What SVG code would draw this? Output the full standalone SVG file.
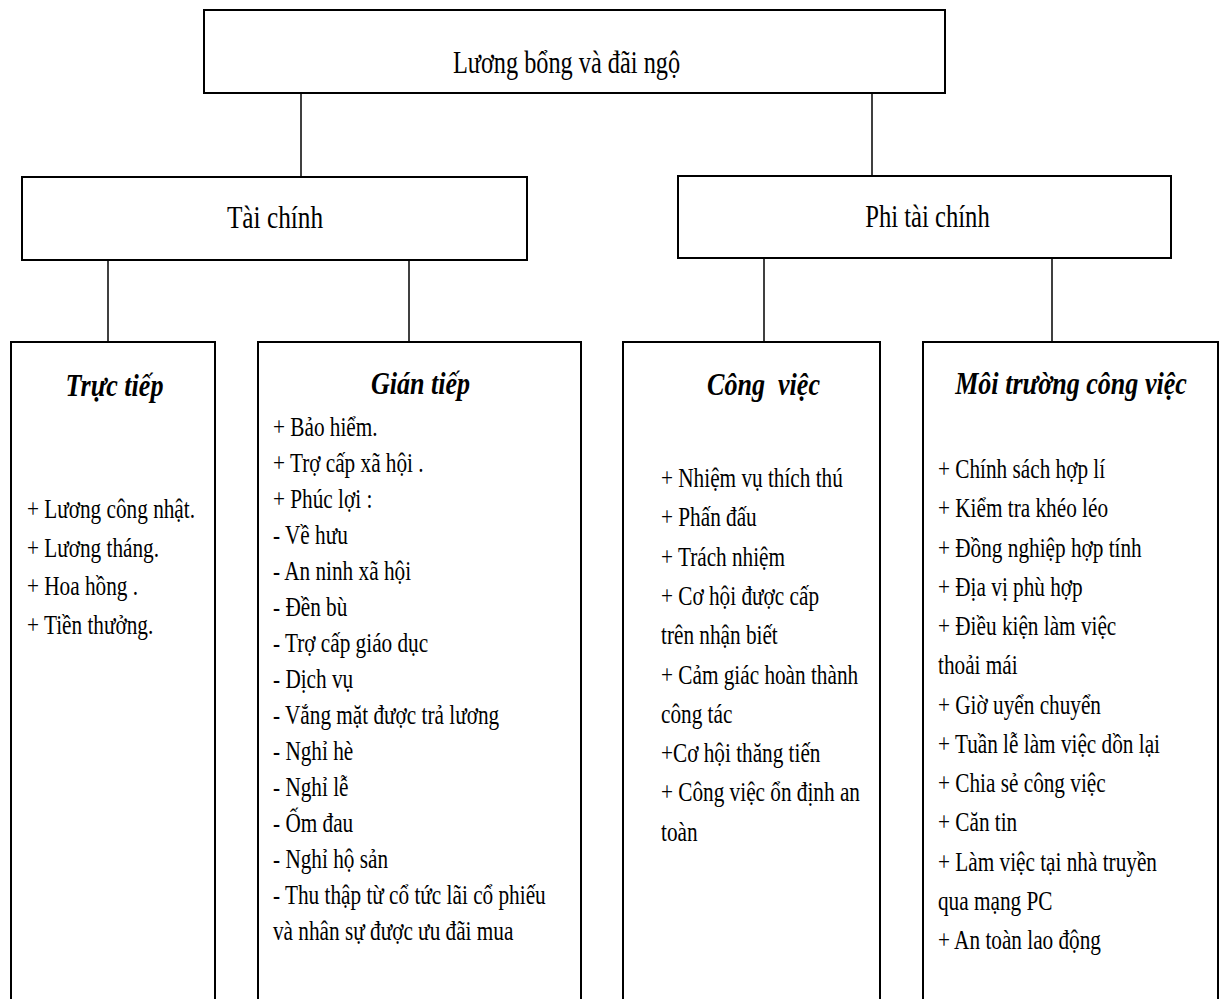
<svg xmlns="http://www.w3.org/2000/svg" width="1226" height="999" viewBox="0 0 1226 999">
<style>
.box{fill:#fff;stroke:#000;stroke-width:2}
.con line{stroke:#000;stroke-width:1.5}
text{font-family:"Liberation Serif","Times New Roman",serif;fill:#000}
.lvl{font-size:32px;text-anchor:middle}
.hdr{font-size:32px;font-weight:bold;font-style:italic;text-anchor:middle}
.item{font-size:27px}
</style>
<rect width="1226" height="999" fill="#fff"/>
<g id="connectors" class="con">
<line x1="301" y1="93" x2="301" y2="177"/>
<line x1="872" y1="93" x2="872" y2="176"/>
<line x1="108" y1="260" x2="108" y2="342"/>
<line x1="409" y1="260" x2="409" y2="342"/>
<line x1="764" y1="258" x2="764" y2="342"/>
<line x1="1052" y1="258" x2="1052" y2="342"/>
</g>
<g id="node-root">
<rect class="box" x="204" y="10" width="741" height="83"/>
<g transform="translate(566.5 0) scale(0.76 1)"><text class="lvl" x="0" y="73">Lương bổng và đãi ngộ</text></g>
</g>
<g id="node-taichinh">
<rect class="box" x="22" y="177" width="505" height="83"/>
<g transform="translate(275 0) scale(0.79 1)"><text class="lvl" x="0" y="228">Tài chính</text></g>
</g>
<g id="node-phitaichinh">
<rect class="box" x="678" y="176" width="493" height="82"/>
<g transform="translate(927.5 0) scale(0.77 1)"><text class="lvl" x="0" y="227">Phi tài chính</text></g>
</g>
<g id="node-tructiep">
<path class="box" d="M11 1001 V342 H215 V1001"/>
<g transform="translate(114.5 0) scale(0.815 1)"><text class="hdr" x="0" y="396">Trực tiếp</text></g>
<g transform="translate(27 0) scale(0.787 1)">
<text class="item" x="0" y="518">+ Lương công nhật.</text>
<text class="item" x="0" y="557">+ Lương tháng.</text>
<text class="item" x="0" y="595">+ Hoa hồng .</text>
<text class="item" x="0" y="634">+ Tiền thưởng.</text>
</g>
</g>
<g id="node-giantiep">
<path class="box" d="M258 1001 V342 H581 V1001"/>
<g transform="translate(420.5 0) scale(0.815 1)"><text class="hdr" x="0" y="394">Gián tiếp</text></g>
<g transform="translate(273 0) scale(0.787 1)">
<text class="item" x="0" y="436">+ Bảo hiểm.</text>
<text class="item" x="0" y="472">+ Trợ cấp xã hội .</text>
<text class="item" x="0" y="508">+ Phúc lợi :</text>
<text class="item" x="0" y="544">- Về hưu</text>
<text class="item" x="0" y="580">- An ninh xã hội</text>
<text class="item" x="0" y="616">- Đền bù</text>
<text class="item" x="0" y="652">- Trợ cấp giáo dục</text>
<text class="item" x="0" y="688">- Dịch vụ</text>
<text class="item" x="0" y="724">- Vắng mặt được trả lương</text>
<text class="item" x="0" y="760">- Nghỉ hè</text>
<text class="item" x="0" y="796">- Nghỉ lễ</text>
<text class="item" x="0" y="832">- Ốm đau</text>
<text class="item" x="0" y="868">- Nghỉ hộ sản</text>
<text class="item" x="0" y="904">- Thu thập từ cổ tức lãi cổ phiếu</text>
<text class="item" x="0" y="940">và nhân sự được ưu đãi mua</text>
</g>
</g>
<g id="node-congviec">
<path class="box" d="M623 1001 V342 H880 V1001"/>
<g transform="translate(763.5 0) scale(0.815 1)"><text class="hdr" x="0" y="395" xml:space="preserve">Công  việc</text></g>
<g transform="translate(661 0) scale(0.787 1)">
<text class="item" x="0" y="487">+ Nhiệm vụ thích thú</text>
<text class="item" x="0" y="526">+ Phấn đấu</text>
<text class="item" x="0" y="566">+ Trách nhiệm</text>
<text class="item" x="0" y="605">+ Cơ hội được cấp</text>
<text class="item" x="0" y="644">trên nhận biết</text>
<text class="item" x="0" y="684">+ Cảm giác hoàn thành</text>
<text class="item" x="0" y="723">công tác</text>
<text class="item" x="0" y="762">+Cơ hội thăng tiến</text>
<text class="item" x="0" y="801">+ Công việc ổn định an</text>
<text class="item" x="0" y="841">toàn</text>
</g>
</g>
<g id="node-moitruong">
<path class="box" d="M923 1001 V342 H1218 V1001"/>
<g transform="translate(1071 0) scale(0.815 1)"><text class="hdr" x="0" y="394">Môi trường công việc</text></g>
<g transform="translate(938 0) scale(0.787 1)">
<text class="item" x="0" y="478">+ Chính sách hợp lí</text>
<text class="item" x="0" y="517">+ Kiểm tra khéo léo</text>
<text class="item" x="0" y="557">+ Đồng nghiệp hợp tính</text>
<text class="item" x="0" y="596">+ Địa vị phù hợp</text>
<text class="item" x="0" y="635">+ Điều kiện làm việc</text>
<text class="item" x="0" y="674">thoải mái</text>
<text class="item" x="0" y="714">+ Giờ uyển chuyển</text>
<text class="item" x="0" y="753">+ Tuần lễ làm việc dồn lại</text>
<text class="item" x="0" y="792">+ Chia sẻ công việc</text>
<text class="item" x="0" y="831">+ Căn tin</text>
<text class="item" x="0" y="871">+ Làm việc tại nhà truyền</text>
<text class="item" x="0" y="910">qua mạng PC</text>
<text class="item" x="0" y="949">+ An toàn lao động</text>
</g>
</g>
</svg>
